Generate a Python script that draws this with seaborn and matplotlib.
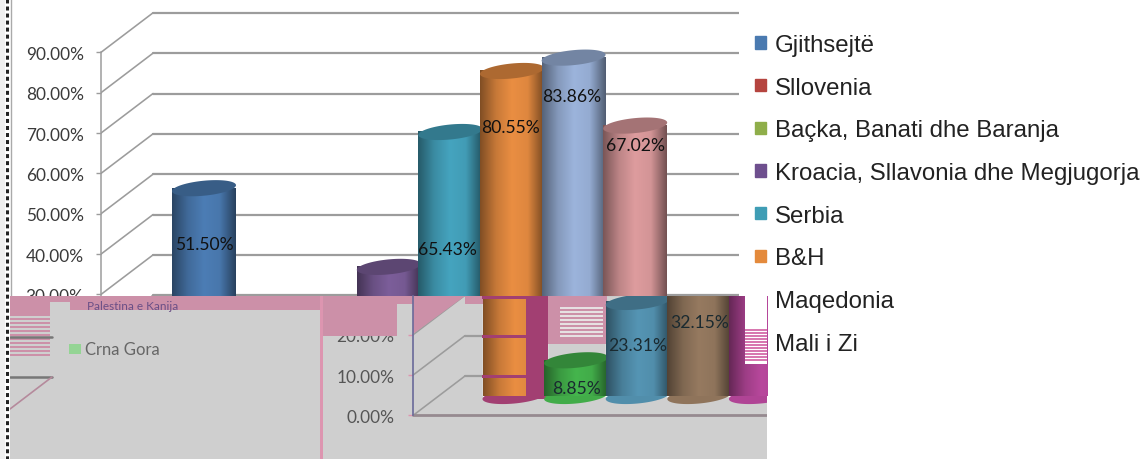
import numpy as np
import pandas as pd
import matplotlib
matplotlib.use("Agg")
import matplotlib.pyplot as plt
from matplotlib.colors import LinearSegmentedColormap, to_rgb
from matplotlib.lines import Line2D
from matplotlib.patches import Patch, Rectangle, Polygon
from matplotlib.transforms import Affine2D
import seaborn as sns

sns.set_theme(style="white")
plt.rcParams["font.family"] = ["Lato", "DejaVu Sans"]

# data
upper_series = ["Gjithsejtë", "Kroacia, Sllavonia dhe Megjugorja", "Serbia", "B&H", "Maqedonia", "Mali i Zi"]
upper_slots = [0, 3, 4, 5, 6, 7]
upper_values = [51.50, 32.0, 65.43, 80.55, 83.86, 67.02]
upper_labels = ["51.50%", None, "65.43%", "80.55%", "83.86%", "67.02%"]

lower_series = ["B&H (2)", "Crna Gora", "Palestina", "Kanija", "Tjera"]
lower_values = [80.55, 8.85, 23.31, 32.15, 60.0]
lower_labels = [None, "8.85%", "23.31%", "32.15%", None]

legend_names = ["Gjithsejtë", "Sllovenia", "Baçka, Banati dhe Baranja",
                "Kroacia, Sllavonia dhe Megjugorja", "Serbia", "B&H", "Maqedonia", "Mali i Zi"]
legend_colors = ["#4a7ab0", "#b5443f", "#8fae4a", "#6e4f8e", "#3f9db5", "#e48a3c", None, None]
upper_ticks = [30, 40, 50, 60, 70, 80, 90]
lower_ticks = [0, 10, 20]

# styles and layout
upper_colors = ["#4c7db5", "#7c5e9a", "#45a4bf", "#ea8e42", "#9cb4dc", "#de9c9e"]
lower_colors = ["#ea8e42", "#45b54d", "#5595b4", "#967a60", "#b9489d"]
lower_bottoms = ["#a23f72", None, None, None, None]
upper_label_px = [245, None, 250, 128, 97, 146]
upper_label_dx = [0, 0, -3, -2, -2, 0]
lower_label_px = [None, 389, 346, 323, None]

W, H = 1147, 460
SLOT = 61.6
BAR = 64 / SLOT
PX_PER_PCT = 4.035
BASE_PX = 397.0
BACK = 4.96    # back wall sits this many percent above the bars' base
FRONT = -4.83  # front wall below it
GRID = "#9c9c9c"
PINK = "#cc90a8"

fig = plt.figure(figsize=(W / 100, H / 100), dpi=100, facecolor="white")
px = Affine2D().scale(1 / W, -1 / H).translate(0, 1) + fig.transFigure


def val(y):
    return (BASE_PX - y) / PX_PER_PCT


def make_axes(x0, x1, y0, y1, first_center):
    ax = fig.add_axes([x0 / W, 1 - y1 / H, (x1 - x0) / W, (y1 - y0) / H])
    return ax, ((x0 - first_center) / SLOT, (x1 - first_center) / SLOT), (val(y1), val(y0))


def draw_cylinders(ax, slots, values, colors, names, xlim, ylim, bottoms=None):
    df = pd.DataFrame({"slot": slots, "name": names, "value": values})
    sns.barplot(data=df, x="slot", y="value", hue="name", palette=colors, order=range(max(slots) + 1),
                width=BAR, legend=False, ax=ax, saturation=1)
    t = np.linspace(0, 2 * np.pi, 80)
    for k, (s, v, c) in enumerate(zip(slots, values, colors)):
        rgb = np.array(to_rgb(c))
        cmap = LinearSegmentedColormap.from_list("c", [rgb * 0.55, rgb * 0.85, rgb, rgb * 0.95, rgb * 0.52])
        z = 3 + k * 0.1
        grad = np.linspace(0, 1, 128)[None, :]
        ax.imshow(grad, cmap=cmap, aspect="auto", zorder=z,
                  extent=(s - BAR / 2, s + BAR / 2, 0, min(v, ylim[1])))
        ex, ey = BAR / 2 * np.cos(t), 7.5 / PX_PER_PCT * np.sin(t) + 3 / PX_PER_PCT * np.cos(t)
        if bottoms is not None:
            ax.fill(s + ex, ey, color=bottoms[k] or rgb * 0.95, lw=0, zorder=z - 0.01)
        ax.fill(s + ex, v + ey, color=rgb * 0.74, lw=0, zorder=z + 0.01)
    ax.set_xlim(xlim)
    ax.set_ylim(ylim)
    ax.set_xlabel("")
    ax.set_ylabel("")
    ax.set_xticks([])


def draw_walls(ax, ticks, x_front, x_back, x_end, x_from_px, lw=1.6):
    for v in ticks:
        ax.plot([x_from_px(x_front), x_from_px(x_back)], [v + FRONT, v + BACK], color=GRID, lw=lw * 0.72, zorder=1)
        ax.plot([x_from_px(x_back), x_from_px(x_end)], [v + BACK, v + BACK], color=GRID, lw=lw, zorder=1)


def stripes(ax, x0, x1, y0, y1, step=4, color=PINK, zorder=1.5):
    for y in np.arange(y0, y1, step):
        ax.add_patch(Rectangle((x0, y), x1 - x0, step / 2, transform=px, color=color, lw=0, zorder=zorder))


def rect(ax, x0, x1, y0, y1, color, zorder=1.2):
    ax.add_patch(Rectangle((x0, y0), x1 - x0, y1 - y0, transform=px, color=color, lw=0, zorder=zorder))


# upper part of the chart
top_center = 204
ax_top, xlim, ylim = make_axes(101, 739, 0, H, top_center)
draw_cylinders(ax_top, upper_slots, upper_values, upper_colors, upper_series, xlim, ylim)
draw_walls(ax_top, upper_ticks + [20], 101, 153, 739, lambda p: (p - top_center) / SLOT)
for s, lab, y, dx in zip(upper_slots, upper_labels, upper_label_px, upper_label_dx):
    if lab:
        ax_top.text(s + dx / SLOT, val(y), lab, ha="center", va="center", fontsize=12.6, color="#111111", zorder=6)
sns.despine(ax=ax_top, top=True, right=True, bottom=True)
ax_top.patch.set_alpha(0)
ax_top.spines["left"].set_color(GRID)
ax_top.spines["left"].set_linewidth(1.1)
ax_top.spines["left"].set_bounds(val(300), 90 + FRONT)
ax_top.set_yticks([v + FRONT for v in upper_ticks])
ax_top.set_yticklabels([f"{v:.2f}%" for v in upper_ticks])
ax_top.tick_params(axis="y", left=True, length=3.5, width=1, color=GRID, pad=9, labelsize=12.4, labelcolor="#3a3a3a")

# lower part: the same chart pasted over itself, shifted to the right
low_center = 514.5
ax_low, xlim, ylim = make_axes(10, 767, 297, H, low_center)
ax_low.set_facecolor("#cfcfcf")
ax_low.set_zorder(5)
draw_cylinders(ax_low, list(range(5)), lower_values, lower_colors, lower_series, xlim, ylim, bottoms=lower_bottoms)
to_slot = lambda p: (p - low_center) / SLOT
draw_walls(ax_low, lower_ticks, 413, 465, 767, to_slot)

# pink damage of the left and middle blocks
rect(ax_low, 10, 50, 297, 315, PINK)
stripes(ax_low, 10, 50, 315, 358)
rect(ax_low, 10, 320, 297, 303, PINK)
rect(ax_low, 70, 320, 297, 311, PINK)
rect(ax_low, 320, 323, 297, 460, "#dd95b0")
rect(ax_low, 323, 397, 297, 337, PINK)
rect(ax_low, 397, 413, 297, 305, PINK)
ax_low.add_patch(Polygon([(413, 297), (465, 297), (413, 335)], transform=px, color=PINK, lw=0, zorder=1.2))
rect(ax_low, 465, 607, 297, 305, PINK)
rect(ax_low, 548, 607, 305, 345, PINK)
stripes(ax_low, 560, 603, 308, 340, color="#e6e0e2", zorder=1.3)
ax_low.plot([to_slot(10), to_slot(52)], [val(338), val(338)], color="#777777", lw=1.8, zorder=1.6)
ax_low.plot([to_slot(10), to_slot(52)], [val(378), val(378)], color="#777777", lw=1.8, zorder=1.6)
ax_low.plot([to_slot(10), to_slot(52)], [val(410), val(378)], color="#b58a9c", lw=1.2, zorder=1.6)

# magenta ghost on the orange bar
rect(ax_low, 526, 548, 297, 400, "#a23f72", zorder=3.02)
rect(ax_low, 482, 526, 296, 300, "#a23f72", zorder=3.02)
for y in [337, 377]:
    rect(ax_low, 482, 526, y - 1.5, y + 1.5, "#a23f72", zorder=3.02)

# broken right end
rect(ax_low, 745, 767, 297, 365, "white", zorder=4)
stripes(ax_low, 745, 767, 330, 362, step=3, color="#d878b0", zorder=4.1)

for s, lab, y in zip(range(5), lower_labels, lower_label_px):
    if lab:
        ax_low.text(s, val(y), lab, ha="center", va="center", fontsize=12.6, color="#1a2a30", zorder=6)

ax_low.text(85, 350, "Crna Gora", transform=px, ha="left", va="center", fontsize=12, color="#666666", zorder=2)
rect(ax_low, 69, 81, 345, 355, "#94d494", zorder=2)
ax_low.text(87, 307, "Palestina e Kanija", transform=px, ha="left", va="center", fontsize=8.5,
            color="#6a4f86", zorder=2)

for side in ["top", "right", "bottom"]:
    ax_low.spines[side].set_visible(False)
ax_low.spines["left"].set_position(("data", to_slot(413)))
ax_low.spines["left"].set_bounds(FRONT, val(297))
ax_low.spines["left"].set_color("#6a6a9a")
ax_low.spines["left"].set_linewidth(1.2)
ax_low.set_yticks([v + FRONT for v in lower_ticks])
ax_low.set_yticklabels([f"{v:.2f}%" for v in lower_ticks])
ax_low.tick_params(axis="y", left=True, length=3.5, width=1, color="#dd95b0", pad=10, labelsize=12.4, labelcolor="#555555")
ax_low.plot([to_slot(413), to_slot(767)], [FRONT, FRONT], color="#968a90", lw=2, zorder=2)

# page edge at the far left
fig.add_artist(Rectangle((0, 0), 5, H, transform=px, color="#efefef", lw=0))
fig.add_artist(Line2D([7, 7], [0, H], transform=px, color="#222222", lw=2.2, linestyle=(0, (1.3, 1.0))))
fig.add_artist(Line2D([10.5, 10.5], [0, 297], transform=px, color="#aaaaaa", lw=1))

# legend
handles = [Patch(color=c if c else "none", label=n) for n, c in zip(legend_names, legend_colors)]
leg = fig.legend(handles=handles, loc="upper left", bbox_to_anchor=(755 / W, 1 - 35 / H), frameon=False,
                 prop={"family": "Liberation Sans", "size": 17.3}, labelspacing=0.86, handlelength=0.46,
                 handleheight=0.42, handletextpad=0.375, labelcolor="#222222", borderaxespad=0, borderpad=0)

fig.savefig("out.png", dpi=100)
